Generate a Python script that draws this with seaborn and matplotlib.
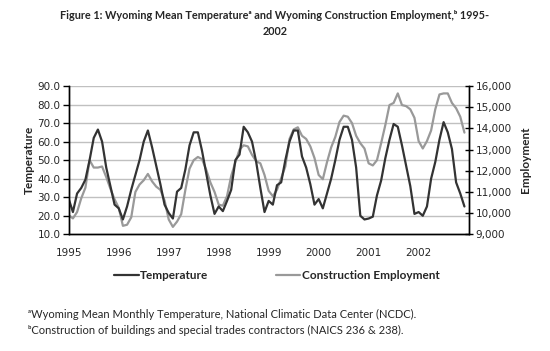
import matplotlib
matplotlib.use('Agg')
import matplotlib.pyplot as plt
import numpy as np
import pandas as pd
import seaborn as sns


START_YEAR = 1995

# Wyoming mean monthly temperature (F), Jan 1995 - Dec 2002
temperature = [
    29, 22, 32, 35, 39.5, 50, 62, 66.5, 60, 46, 36, 26,      # 1995
    24, 18, 25, 34, 42, 50, 60, 66, 57, 47, 37, 26,          # 1996
    21.5, 18.5, 33, 35, 45, 58, 65, 65, 55, 43, 31, 21,      # 1997
    25, 22.5, 28, 34, 50, 53, 68, 65, 60, 49, 35, 22,        # 1998
    28, 26, 36.5, 38, 50, 60, 66, 66, 52, 46, 37, 26,        # 1999
    29, 24, 32, 40, 50, 61, 68, 68, 61, 46, 20, 18,          # 2000
    18.5, 19.5, 31, 39, 51, 61, 69.5, 68, 58, 47, 36, 21,    # 2001
    22, 20, 25, 40, 49, 61, 70.5, 65, 56, 38, 32, 25,        # 2002
]

# Wyoming construction employment, Jan 1995 - Dec 2002
employment = [
    9900, 9750, 10050, 10700, 11200, 12500, 12150, 12150, 12200, 11700, 11150, 10650,
    10250, 9400, 9450, 9800, 11000, 11350, 11550, 11850, 11500, 11250, 11100, 10600,
    9700, 9350, 9600, 9950, 11100, 12100, 12500, 12650, 12550, 12050, 11450, 11000,
    10400, 10350, 10800, 11750, 12400, 13000, 13200, 13150, 12750, 12450, 12350, 11800,
    11050, 10800, 11100, 11650, 12200, 13500, 13950, 14050, 13650, 13500, 13150, 12600,
    11800, 11600, 12400, 13100, 13600, 14300, 14600, 14550, 14250, 13650, 13300, 13050,
    12350, 12250, 12500, 13300, 14150, 15100, 15200, 15650, 15100, 15050, 14900, 14500,
    13400, 13050, 13400, 13900, 14900, 15600, 15650, 15650, 15200, 14950, 14550, 13800,
]

year_ticks = [1995, 1996, 1997, 1998, 1999, 2000, 2001, 2002]

TEMP_COLOR = '#333333'
EMP_COLOR = '#999999'
TEXT_FONT = ['Lato', 'DejaVu Sans']


def main():
    data = pd.DataFrame({
        'date': START_YEAR + np.arange(len(temperature)) / 12,
        'Temperature': temperature,
        'Construction Employment': employment,
    })

    sns.set_theme(style='white')
    plt.rcParams['font.family'] = ['DejaVu Sans']
    fig = plt.figure(figsize=(5.5, 3.51), dpi=100)
    ax = fig.add_axes([0.125, 0.3325, 0.727, 0.4225])
    ax2 = ax.twinx()

    sns.lineplot(data=data, x='date', y='Temperature', ax=ax, color=TEMP_COLOR,
                 linewidth=1.6, label='Temperature', legend=False)
    sns.lineplot(data=data, x='date', y='Construction Employment', ax=ax2,
                 color=EMP_COLOR, linewidth=1.6, label='Construction Employment',
                 legend=False)
    ax.set_zorder(ax2.get_zorder() + 1)
    ax.patch.set_visible(False)

    # left axis
    ax.set_xlim(1995, 2003)
    ax.set_ylim(10, 90)
    ax.set_yticks(np.arange(10, 91, 10))
    ax.set_yticklabels(['{:.1f}'.format(v) for v in np.arange(10, 91, 10)])
    ax.set_xticks(year_ticks + [2003])
    ax.set_xticklabels([str(y) for y in year_ticks] + [''])
    ax.grid(False)
    # horizontal gridlines follow the temperature scale
    for v in range(20, 91, 10):
        ax2.axhline(9000 + (v - 10) * 87.5, color='#c0c0c0', linewidth=1, zorder=0)

    ax2.set_ylim(9000, 16000)
    ax2.set_yticks(np.arange(9000, 16001, 1000))
    ax2.set_yticklabels(['{:,}'.format(v) for v in range(9000, 16001, 1000)])
    ax2.grid(False)

    for a in (ax, ax2):
        a.spines['top'].set_visible(False)
        for side in ('left', 'right', 'bottom'):
            a.spines[side].set_color('black')
            a.spines[side].set_linewidth(1)
        a.tick_params(axis='both', which='both', direction='out', length=4,
                      width=1, color='black', labelsize=7.5, pad=2)
    ax.tick_params(axis='x', pad=6)
    ax2.tick_params(axis='y', direction='inout', length=6)

    ax.set_xlabel('')
    ax.set_ylabel('Temperature', fontsize=8.5, fontweight='bold', labelpad=2,
                  family=TEXT_FONT)
    ax2.set_ylabel('Employment', fontsize=8.5, fontweight='bold', labelpad=6,
                   family=TEXT_FONT)

    handles = ax.get_lines()[:1] + ax2.get_lines()[:1]
    fig.legend(handles, ['Temperature', 'Construction Employment'], loc='center',
               bbox_to_anchor=(0.503, 0.215), ncol=2, frameon=False,
               handlelength=2.1, columnspacing=5.7, handletextpad=0.1,
               prop={'weight': 'bold', 'size': 8.5, 'family': TEXT_FONT})

    fig.text(0.5, 0.955, 'Figure 1: Wyoming Mean Temperature\u1d43 and Wyoming '
             'Construction Employment,\u1d47 1995-', ha='center', va='center',
             fontsize=7.8, fontweight='bold', family=TEXT_FONT)
    fig.text(0.5, 0.91, '2002', ha='center', va='center', fontsize=7.8,
             fontweight='bold', family=TEXT_FONT)

    fig.text(0.05, 0.105, '\u1d43Wyoming Mean Monthly Temperature, National Climatic '
             'Data Center (NCDC).', ha='left', va='center', fontsize=8,
             family=TEXT_FONT)
    fig.text(0.05, 0.058, '\u1d47Construction of buildings and special trades '
             'contractors (NAICS 236 & 238).', ha='left', va='center',
             fontsize=8, family=TEXT_FONT)

    fig.savefig('out.png', dpi=100)
    plt.close(fig)


if __name__ == '__main__':
    main()
